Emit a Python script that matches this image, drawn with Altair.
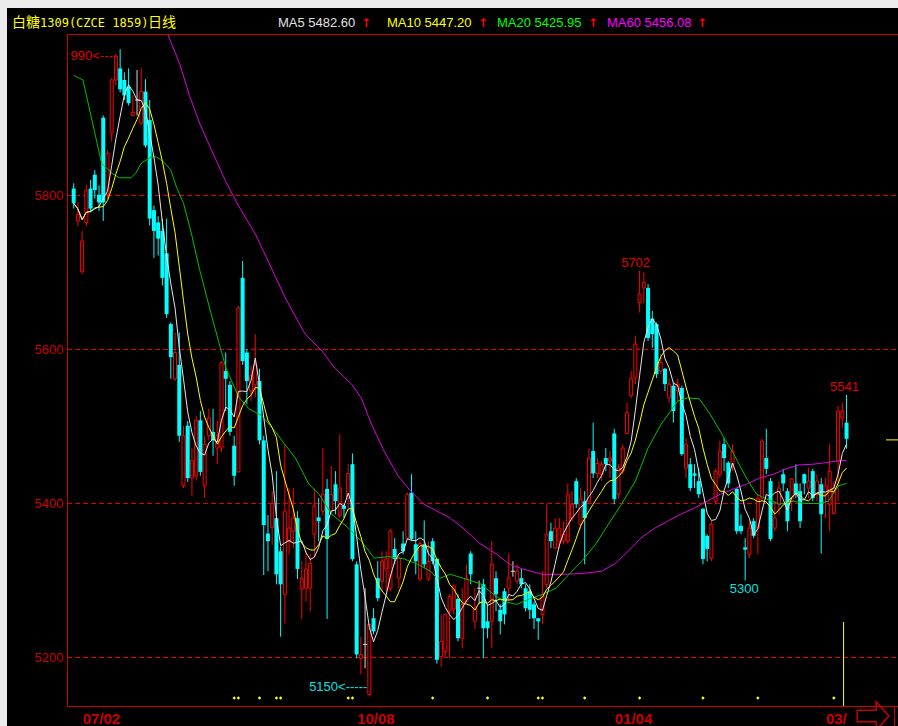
import altair as alt
import pandas as pd

# ---------------- data ----------------
opens = [5809,5767,5701,5765,5809,5827,5801,5901,5801,5881,5950,5965,5950,5941,5904,5924,5894,5935,5898,5781,
         5765,5754,5725,5633,5562,5580,5423,5501,5433,5436,5508,5423,5488,5493,5472,5472,5572,5554,5475,5441,
         5693,5596,5546,5554,5559,5482,5361,5369,5381,5338,5282,5351,5364,5381,5289,5290,5290,5360,5382,5390,
         5419,5390,5425,5384,5397,5407,5451,5321,5199,5217,5152,5251,5303,5299,5315,5290,5341,5303,5348,5355,
         5414,5347,5302,5347,5302,5351,5328,5201,5208,5260,5263,5276,5225,5273,5335,5247,5290,5295,5247,5247,
         5303,5262,5286,5290,5312,5299,5303,5290,5286,5269,5251,5256,5295,5364,5342,5351,5351,5351,5381,5429,
         5373,5403,5403,5468,5439,5438,5459,5455,5491,5412,5442,5491,5540,5563,5661,5680,5680,5640,5633,5572,
         5575,5537,5553,5546,5550,5446,5451,5439,5429,5393,5358,5329,5403,5438,5477,5453,5451,5419,5371,5343,
         5334,5377,5368,5407,5459,5429,5368,5399,5438,5416,5403,5426,5416,5438,5420,5442,5412,5425,5412,5399,
         5387,5455,5511,5505]
highs = [5816,5791,5754,5814,5820,5833,5813,5904,5859,5952,5984,5990,5960,5965,5930,5963,5965,5951,5924,5787,
         5773,5770,5770,5635,5622,5622,5501,5507,5472,5514,5520,5488,5523,5523,5507,5585,5596,5559,5488,5657,
         5715,5601,5579,5620,5575,5488,5385,5416,5442,5344,5477,5420,5420,5390,5325,5338,5334,5420,5407,5472,
         5432,5449,5442,5490,5399,5451,5465,5325,5227,5290,5244,5264,5325,5338,5338,5367,5355,5334,5364,5414,
         5438,5364,5351,5378,5351,5355,5329,5256,5257,5282,5295,5282,5290,5321,5338,5290,5300,5302,5269,5351,
         5312,5269,5290,5335,5325,5321,5315,5295,5295,5273,5251,5312,5399,5375,5381,5381,5377,5426,5416,5433,
         5420,5416,5471,5505,5459,5455,5472,5468,5497,5451,5477,5531,5572,5618,5702,5700,5685,5650,5635,5594,
         5576,5562,5557,5562,5553,5485,5459,5451,5446,5394,5360,5377,5445,5481,5485,5455,5477,5420,5386,5355,
         5377,5381,5413,5484,5497,5433,5403,5429,5445,5420,5433,5451,5426,5439,5446,5445,5438,5433,5433,5477,
         5429,5527,5531,5541]
lows = [5783,5760,5698,5760,5778,5796,5780,5767,5796,5870,5943,5934,5924,5917,5903,5904,5891,5862,5761,5719,
        5722,5683,5641,5562,5559,5480,5420,5428,5410,5430,5436,5407,5482,5462,5451,5467,5520,5488,5423,5441,
        5580,5529,5533,5538,5477,5307,5312,5346,5295,5227,5244,5334,5342,5302,5250,5273,5260,5331,5351,5384,
        5250,5386,5386,5381,5381,5394,5325,5199,5178,5186,5150,5230,5273,5286,5286,5286,5321,5290,5334,5354,
        5351,5308,5299,5316,5299,5321,5192,5188,5201,5199,5256,5221,5212,5270,5295,5237,5270,5199,5225,5212,
        5260,5230,5243,5273,5305,5295,5290,5260,5250,5237,5223,5243,5290,5342,5341,5342,5347,5348,5377,5394,
        5367,5321,5399,5433,5433,5429,5442,5433,5399,5407,5438,5490,5537,5555,5648,5660,5611,5602,5563,5568,
        5546,5531,5505,5533,5462,5433,5416,5420,5407,5321,5325,5325,5399,5433,5442,5420,5442,5360,5360,5300,
        5329,5355,5334,5403,5438,5351,5364,5386,5416,5364,5390,5407,5368,5412,5407,5403,5403,5335,5381,5364,
        5386,5403,5498,5471]
closes = [5790,5775,5741,5807,5783,5807,5791,5791,5855,5950,5981,5938,5930,5920,5908,5924,5935,5865,5770,5754,
          5744,5693,5646,5590,5596,5488,5488,5433,5456,5508,5441,5477,5511,5482,5488,5583,5562,5493,5436,5654,
          5585,5559,5566,5580,5482,5372,5351,5400,5308,5295,5390,5368,5381,5315,5303,5315,5322,5397,5377,5412,
          5354,5412,5403,5420,5393,5439,5328,5204,5204,5217,5243,5234,5277,5325,5328,5364,5328,5329,5338,5412,
          5354,5325,5348,5321,5325,5325,5197,5221,5256,5279,5293,5225,5269,5303,5308,5264,5290,5238,5238,5321,
          5282,5247,5256,5303,5312,5312,5295,5264,5262,5251,5247,5282,5360,5351,5368,5368,5360,5412,5399,5399,
          5406,5381,5459,5439,5452,5451,5451,5459,5406,5446,5472,5518,5562,5607,5672,5687,5615,5620,5568,5583,
          5555,5555,5520,5555,5464,5477,5420,5436,5412,5328,5341,5373,5442,5468,5459,5426,5468,5364,5364,5340,
          5368,5358,5407,5481,5445,5354,5381,5420,5426,5377,5432,5412,5377,5426,5429,5407,5429,5386,5423,5442,
          5420,5520,5520,5484]

ma20_idx = [0,2.2,6.6,9.0,10.8,13.6,14.8,16.0,18.4,19.7,21.4,23.0,24.4,26.0,27.9,29.8,32.8,36.1,39.1,41.5,
            44.5,47.8,49.4,52.5,55.7,58.1,61.1,65.1,68.1,71.2,74.5,78.2,81.5,84.5,86.2,89.2,92.2,96.2,98.5,101.6,
            104.9,107.9,111.0,114.2,117.3,120.3,123.6,126.6,129.7,133.0,136.0,139.1,143.0,145.3,148.1,150.7,153.5,
            156.3,159.3,161.7,164.0,167.1,170.4,173.4,176.4,178.7,181.1,183.0]
ma20_val = [5956,5950,5842,5829,5823,5823,5830,5842,5850,5850,5843,5833,5810,5790,5750,5704,5641,5575,5538,5523,
            5514,5493,5481,5459,5425,5412,5386,5368,5351,5329,5331,5328,5321,5312,5302,5308,5303,5296,5286,5273,
            5269,5276,5282,5290,5308,5325,5347,5373,5399,5429,5472,5503,5533,5537,5536,5516,5490,5464,5433,5412,
            5406,5399,5403,5400,5400,5403,5423,5426]

ma60_idx = [19.0,22.8,25.1,27.4,29.8,32.8,36.1,39.1,43.1,46.2,50.1,54.8,58.8,61.8,65.8,68.1,70.5,73.5,76.8,79.8,
            82.9,86.1,89.2,92.2,96.2,100.2,103.2,106.3,111.0,115.6,120.3,125.0,128.2,131.3,134.3,137.6,140.6,143.7,
            147.0,150.0,153.1,156.3,159.3,162.4,165.7,168.7,171.7,175.0,178.1,180.4,183.0]
ma60_val = [6060,6002,5971,5930,5894,5857,5817,5786,5749,5713,5667,5620,5598,5576,5555,5537,5503,5468,5436,5416,
            5399,5390,5381,5368,5348,5334,5321,5315,5308,5308,5309,5312,5322,5338,5355,5368,5377,5386,
            5394,5403,5412,5419,5425,5433,5438,5445,5450,5451,5453,5455,5456]

date_idx = [2, 67, 128, 178]
date_lbl = ["07/02", "10/08", "01/04", "03/"]
y_ticks = [5200, 5400, 5600, 5800]
mark_idx = [38, 39, 44, 48, 49, 65, 66, 85, 98, 110, 111, 121, 134, 149, 162, 180]

title_parts = ["白糖", "1309(CZCE 1859)", "日线"]
ma_names = ["MA5 5482.60", "MA10 5447.20", "MA20 5425.95", "MA60 5456.08"]
ma_colors = ["#e0e0e0", "#ffff00", "#00ff00", "#ff00ff"]

# ---------------- frames ----------------
n = len(opens)
df = pd.DataFrame({"i": list(range(n)), "o": opens, "h": highs, "l": lows, "c": closes})
df["dir"] = ["up" if c > o else ("down" if c < o else "flat") for o, c in zip(opens, closes)]
ma20 = pd.DataFrame({"i": ma20_idx, "v": ma20_val})
ma60 = pd.DataFrame({"i": ma60_idx, "v": ma60_val})
marks = pd.DataFrame({"i": mark_idx})
grid_df = pd.DataFrame({"v": y_ticks})

W, H = 831, 672
RED_UI = "#c80000"
xs = alt.Scale(domain=[-0.4, 194.0], nice=False, zero=False)
ys = alt.Scale(domain=[5137.0, 6009.74], nice=False, zero=False)

lbl_expr = " : ".join(f"datum.value == {v} ? '{t}'" for v, t in zip(date_idx, date_lbl)) + " : ''"
xaxis = alt.Axis(values=date_idx, labelExpr=lbl_expr, title=None, domain=False, ticks=False, grid=False,
                 labelColor=RED_UI, labelFont="Liberation Sans", labelFontSize=15, labelFontWeight="bold",
                 labelAlign="left", labelBaseline="middle", labelPadding=12, labelFlush=False,
                 labelOverlap=False)
yaxis = alt.Axis(values=y_ticks, format="d", title=None, domain=False, ticks=False, grid=False,
                 labelColor=RED_UI, labelFont="Liberation Sans", labelFontSize=13, labelPadding=4)

X = alt.X("i:Q", scale=xs, axis=xaxis)

def Y(f):
    return alt.Y(f, scale=ys, axis=yaxis)

base = alt.Chart(df)

grid = alt.Chart(grid_df).mark_rule(color="#e00000", strokeWidth=1, strokeDash=[5, 3]).encode(
    y=Y("v:Q"), x=alt.value(0), x2=alt.value(W))

wicks = base.mark_rule(strokeWidth=1).encode(
    x=X, y=Y("l:Q"), y2="h:Q",
    color=alt.Color("dir:N", scale=alt.Scale(domain=["up", "down", "flat"],
                                              range=["#ff0000", "#00ffff", "#d8d8d8"]), legend=None))
up_body = base.transform_filter(alt.datum.dir == "up").mark_bar(
    size=3, fill="black", stroke="#ff0000", strokeWidth=1).encode(x=X, y=Y("o:Q"), y2="c:Q")
dn_body = base.transform_filter(alt.datum.dir == "down").mark_bar(
    size=4, color="#00ffff").encode(x=X, y=Y("o:Q"), y2="c:Q")
flat_body = base.transform_filter(alt.datum.dir == "flat").transform_calculate(
    xl="datum.i - 0.5", xr="datum.i + 0.5").mark_rule(color="#d8d8d8", strokeWidth=1).encode(
    x=alt.X("xl:Q", scale=xs, axis=xaxis), x2="xr:Q", y=Y("o:Q"))

ma5 = base.transform_window(ma5="mean(c)", frame=[-4, 0], sort=[alt.SortField("i")]).mark_line(
    color="#e6e6e6", strokeWidth=1).encode(x=X, y=Y("ma5:Q"))
ma10 = base.transform_window(ma10="mean(c)", frame=[-9, 0], sort=[alt.SortField("i")]).mark_line(
    color="#ffff00", strokeWidth=1).encode(x=X, y=Y("ma10:Q"))
ma20_l = alt.Chart(ma20).mark_line(color="#00c000", strokeWidth=1, clip=True).encode(x=X, y=Y("v:Q"))
ma60_l = alt.Chart(ma60).mark_line(color="#e000e0", strokeWidth=1, clip=True).encode(x=X, y=Y("v:Q"))

one = alt.Data(values=[{"a": 1}])

def ann(txt, xi, yv, color, align, baseline, dx, dy):
    return alt.Chart(one).mark_text(text=txt, color=color, font="Liberation Sans", fontSize=13,
                                    align=align, baseline=baseline, dx=dx, dy=dy).encode(
        x=alt.datum(xi, scale=xs), y=alt.datum(yv, scale=ys))

anns = [
    ann("990<----", 11, 5990, "#e00000", "right", "middle", -3, 7),
    ann("5702", 134, 5702, "#e00000", "center", "alphabetic", -4, -4),
    ann("5541", 183, 5541, "#e00000", "center", "alphabetic", -2, -4),
    ann("5300", 159, 5300, "#00e0e0", "center", "top", -1, 3),
    ann("5150<-----", 70, 5150, "#00e0e0", "right", "middle", -2, -9),
]

dots = alt.Chart(marks).mark_point(shape="diamond", filled=True, size=12, color="#ffff00", opacity=1).encode(
    x=X, y=alt.value(664))

cursor_v = alt.Chart(one).mark_rule(color="#ffff00", strokeWidth=1).encode(
    x=alt.datum(182.3, scale=xs), y=alt.value(588), y2=alt.value(H))
cursor_h = alt.Chart(one).mark_rule(color="#ffff00", strokeWidth=1).encode(
    y=alt.datum(5482.6, scale=ys), x=alt.value(819), x2=alt.value(W))

# frame & chrome
def rule(x1, x2, y1, y2, color=RED_UI):
    return alt.Chart(one).mark_rule(color=color, strokeWidth=1).encode(
        x=alt.value(x1), x2=alt.value(x2), y=alt.value(y1), y2=alt.value(y2))

frame = [rule(0.5, 0.5, 0, H), rule(0, W, 0.5, 0.5), rule(0, W, H + 0.5, H + 0.5),
         rule(827.5, 827.5, H, H + 20)]

def rect(x1, x2, y1, y2, color):
    return alt.Chart(one).mark_rect(color=color).encode(
        x=alt.value(x1), x2=alt.value(x2), y=alt.value(y1), y2=alt.value(y2))

chrome = [rect(-67, W, -34, -26, "#ececec"), rect(-67, -60, -34, H + 20, "#ececec")]

def label(txt, px, py, color, font="Liberation Sans", size=13, weight="normal"):
    return alt.Chart(one).mark_text(text=txt, color=color, font=font, fontSize=size, fontWeight=weight,
                                    align="left", baseline="middle").encode(x=alt.value(px), y=alt.value(py))

hdr = [
    label(title_parts[0], -55, -11, "#ffff00", font="Noto Sans CJK SC", size=14),
    label(title_parts[1], -27, -11, "#ffff00", font="DejaVu Sans Mono", size=12),
    label(title_parts[2], 81, -11, "#ffff00", font="Noto Sans CJK SC", size=14),
]
ma_x = [211, 320, 430, 540]
arr_x = [294, 411, 521, 630]
for t, c, px, ax in zip(ma_names, ma_colors, ma_x, arr_x):
    hdr.append(label(t, px, -11, c))
    hdr.append(label("↑", ax, -11, "#ff0000", font="DejaVu Sans", size=12, weight="bold"))

arrow_path = "M-1,-0.36L0.2,-0.36L0.2,-0.9L1,0L0.2,0.9L0.2,0.36L-1,0.36Z"
arrow = alt.Chart(one).mark_point(shape=arrow_path, filled=False, stroke=RED_UI, strokeWidth=1.5,
                                  size=1000, opacity=1).encode(x=alt.value(806), y=alt.value(682))

chart = alt.layer(
    *chrome, grid, wicks, up_body, dn_body, flat_body, ma60_l, ma20_l, ma10, ma5, *anns, dots,
    cursor_v, cursor_h, *frame, *hdr, arrow
).properties(
    width=W, height=H,
    padding={"left": 67, "top": 34, "right": 0, "bottom": 20},
    autosize=alt.AutoSizeParams(type="none"),
    background="black",
).configure_view(stroke=None)

chart.save("out.html", embed_options={"renderer": "svg", "actions": False})
